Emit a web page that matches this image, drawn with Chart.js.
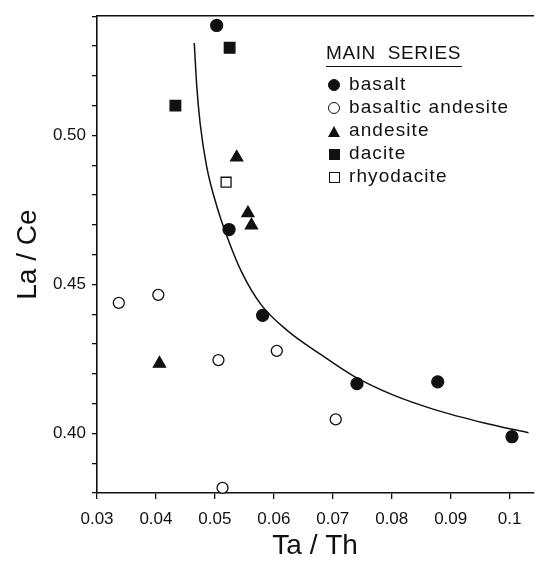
<!DOCTYPE html>
<html lang="en">
<head>
<meta charset="UTF-8">
<title>La/Ce vs Ta/Th</title>
<script src="https://cdn.jsdelivr.net/npm/chart.js"></script>
<style>
    body { margin: 0; background: #fff; }
    #wrap { position: relative; width: 542px; height: 563px; }
    #legend {
        position: absolute; left: 326px; top: 42px;
        font-family: "Liberation Sans", Arial, sans-serif; color: #111;
        font-size: 19px; letter-spacing: 1.1px;
    }
    #legend .head { border-bottom: 1.5px solid #111; padding-bottom: 2px; margin-bottom: 5px; width: 136px; white-space: pre; letter-spacing: 0.6px; }
    #legend .item { height: 23px; line-height: 23px; white-space: nowrap; }
    #legend .mk { display: inline-block; width: 16px; text-align: center; margin-right: 7px; vertical-align: middle; }
    #legend .mk span { display: inline-block; box-sizing: border-box; }
</style>
</head>
<body>
<div id="wrap">
    <canvas id="plot" width="542" height="563"></canvas>
    <div id="legend"></div>
</div>
<script>
    // values
    const basaltX = [0.0503, 0.0524, 0.0581, 0.0741, 0.0878, 0.1004];
    const basaltY = [0.5369, 0.4684, 0.4396, 0.4167, 0.4173, 0.3989];

    const basAndX = [0.0337, 0.0404, 0.0506, 0.0605, 0.0705, 0.0513];
    const basAndY = [0.4438, 0.4465, 0.4246, 0.4277, 0.4047, 0.3817];

    const andesiteX = [0.0537, 0.0556, 0.0562, 0.0406];
    const andesiteY = [0.4926, 0.4739, 0.4698, 0.4234];

    const daciteX = [0.0525, 0.0433];
    const daciteY = [0.5294, 0.5100];

    const rhyoX = [0.0519];
    const rhyoY = [0.4843];

    // mixing curve
    const curveX = [0.0465, 0.0469, 0.0475, 0.0486, 0.0503, 0.0522, 0.0545, 0.0578, 0.0623, 0.0678, 0.0734, 0.0801, 0.0874, 0.0957, 0.1032];
    const curveY = [0.5310, 0.5172, 0.5040, 0.4896, 0.4764, 0.4653, 0.4543, 0.4433, 0.4345, 0.4267, 0.4194, 0.4130, 0.4079, 0.4035, 0.4002];

    const xTicks = [0.03, 0.04, 0.05, 0.06, 0.07, 0.08, 0.09, 0.10];
    const xLabels = ['0.03', '0.04', '0.05', '0.06', '0.07', '0.08', '0.09', '0.1'];
    const yTicks = [0.38, 0.39, 0.40, 0.41, 0.42, 0.43, 0.44, 0.45, 0.46, 0.47, 0.48, 0.49, 0.50, 0.51, 0.52, 0.53, 0.54];
    const yLabels = { '0.40': '0.40', '0.45': '0.45', '0.50': '0.50' };

    const FONT = '"Liberation Sans", Arial, sans-serif';

    function pts(xs, ys) {
        return xs.map((x, i) => ({ x: x, y: ys[i] }));
    }

    const series = [
        { label: 'basalt', data: pts(basaltX, basaltY), pointStyle: 'circle', pointRadius: 6, fill: '#111' },
        { label: 'basaltic andesite', data: pts(basAndX, basAndY), pointStyle: 'circle', pointRadius: 5.5, fill: '#fff' },
        { label: 'andesite', data: pts(andesiteX, andesiteY), pointStyle: 'triangle', pointRadius: 7, fill: '#111' },
        { label: 'dacite', data: pts(daciteX, daciteY), pointStyle: 'rect', pointRadius: 7.5, fill: '#111' },
        { label: 'rhyodacite', data: pts(rhyoX, rhyoY), pointStyle: 'rect', pointRadius: 7, fill: '#fff' }
    ];

    const datasets = series.map(s => ({
        label: s.label,
        data: s.data,
        pointStyle: s.pointStyle,
        pointRadius: s.pointRadius,
        pointBackgroundColor: s.fill,
        pointBorderColor: '#111',
        pointBorderWidth: 1.3,
        showLine: false,
        order: 0
    }));

    datasets.push({
        label: 'curve',
        data: pts(curveX, curveY),
        showLine: true,
        pointRadius: 0,
        borderColor: '#111',
        borderWidth: 1.5,
        cubicInterpolationMode: 'monotone',
        order: 10
    });

    function setTicks(values) {
        return scale => { scale.ticks = values.map(v => ({ value: v })); };
    }

    new Chart(document.getElementById('plot'), {
        type: 'scatter',
        data: { datasets: datasets },
        options: {
            responsive: false,
            animation: false,
            devicePixelRatio: 1,
            layout: { padding: 0 },
            clip: false,
            plugins: { legend: { display: false }, tooltip: { enabled: false } },
            scales: {
                x: {
                    type: 'linear', position: 'bottom', min: 0.03, max: 0.104,
                    afterBuildTicks: setTicks(xTicks),
                    afterFit: s => { s.height = 70; },
                    grid: { drawOnChartArea: false, tickLength: 6, color: '#111', lineWidth: 1.3 },
                    border: { display: true, color: '#111', width: 1.6 },
                    ticks: {
                        padding: 10, color: '#111', maxRotation: 0, autoSkip: false,
                        font: { family: FONT, size: 17 },
                        callback: (v, i) => xLabels[i]
                    },
                    title: { display: true, text: 'Ta / Th', color: '#111', font: { family: FONT, size: 28 }, padding: { top: 0, bottom: 0 } }
                },
                x2: {
                    type: 'linear', position: 'top', min: 0.03, max: 0.104,
                    afterFit: s => { s.height = 12; },
                    grid: { display: false, drawTicks: false },
                    border: { display: true, color: '#111', width: 1.6 },
                    ticks: { display: false }
                },
                y: {
                    type: 'linear', position: 'left', min: 0.38, max: 0.54,
                    afterBuildTicks: setTicks(yTicks),
                    afterFit: s => { s.width = 97; },
                    grid: { drawOnChartArea: false, tickLength: 5, color: '#111', lineWidth: 1.3 },
                    border: { display: true, color: '#111', width: 1.6 },
                    ticks: {
                        padding: 6, color: '#111', autoSkip: false,
                        font: { family: FONT, size: 17 },
                        callback: v => yLabels[v.toFixed(2)] || ''
                    },
                    title: { display: true, text: 'La / Ce', color: '#111', font: { family: FONT, size: 28 }, padding: { top: 11, bottom: 0 } }
                }
            }
        }
    });

    // legend box drawn as html, built from the same series list
    const legend = document.getElementById('legend');
    let html = '<div class="head">MAIN  SERIES</div>';
    series.forEach(s => {
        let mark;
        if (s.pointStyle === 'triangle') {
            mark = '<span style="width:0;height:0;border-left:6px solid transparent;border-right:6px solid transparent;border-bottom:11px solid #111"></span>';
        } else {
            const r = s.pointStyle === 'circle' ? '50%' : '0';
            const sz = s.pointStyle === 'circle' ? 12 : 11;
            mark = '<span style="width:' + sz + 'px;height:' + sz + 'px;border-radius:' + r + ';background:' + s.fill + ';border:1.3px solid #111"></span>';
        }
        html += '<div class="item"><span class="mk">' + mark + '</span>' + s.label + '</div>';
    });
    legend.innerHTML = html;
</script>
</body>
</html>
